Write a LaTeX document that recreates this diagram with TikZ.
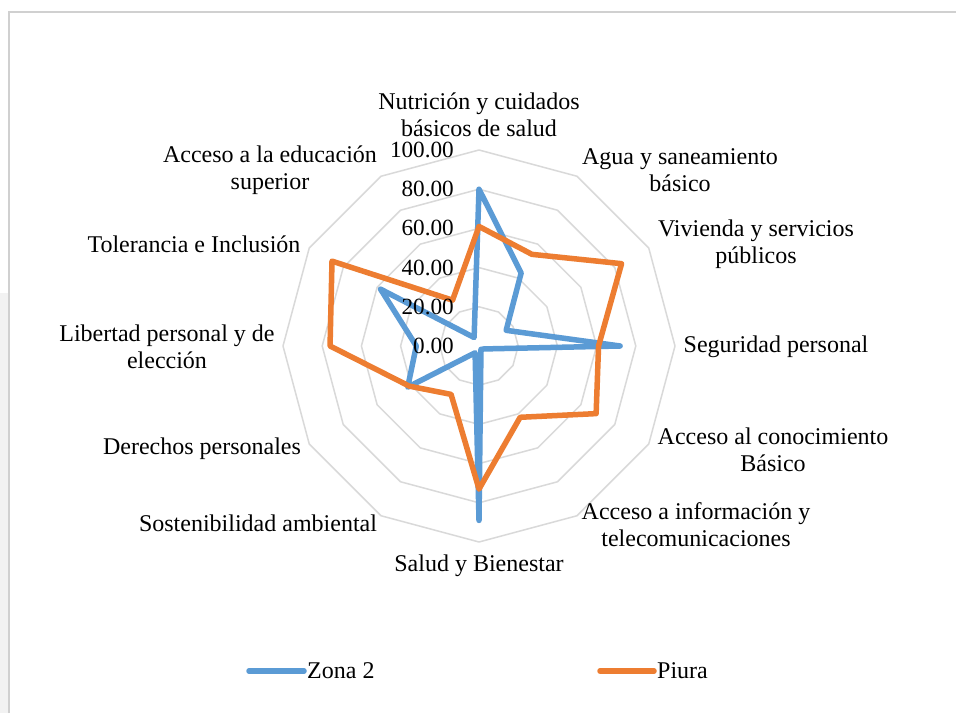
\documentclass[tikz,border=0pt]{standalone}
\usepackage{fontspec}
\setmainfont{Liberation Serif}
\definecolor{zblue}{HTML}{5B9BD5}
\definecolor{porange}{HTML}{ED7D31}
\definecolor{gridgray}{HTML}{D9D9D9}
\definecolor{framegray}{HTML}{D0D0D0}
\begin{document}
\begin{tikzpicture}[x=1pt,y=1pt,
  gridline/.style={draw=gridgray,line width=1.5pt,line join=round},
  zonaline/.style={draw=zblue,line width=5.5pt,line join=round,line cap=round},
  piuraline/.style={draw=porange,line width=5.5pt,line join=round,line cap=round},
  axlabel/.style={align=center,font=\fontsize{24}{27}\selectfont,inner sep=0pt},
  ticklabel/.style={anchor=east,font=\fontsize{23.2}{27}\selectfont,inner sep=0pt},
  legtext/.style={anchor=west,font=\fontsize{24}{27}\selectfont,inner sep=0pt}]
\useasboundingbox (0,0) rectangle (956,713);
\fill[white] (0,0) rectangle (956,713);
\fill[gray!10] (0,0) rectangle (8,420);
\draw[framegray,line width=1.2pt] (9,0) -- (9,701) -- (956,701);
% grid rings
\begin{scope}[shift={(479,367)}]
  \foreach \r in {20,40,60,80,100}{
    \draw[gridline] (90:{\r*1.96}) \foreach \k in {1,...,11}{ -- ({90-30*\k}:{\r*1.96})} -- cycle;
  }
  % Zona 2
  \draw[zonaline] (90:{80*1.96})
    \foreach \v [count=\k from 1] in {43,16,72,3,2,89,4,42,32,58,5}{ -- ({90-30*\k}:{\v*1.96})} -- cycle;
  % Piura
  \draw[piuraline] (90:{61*1.96})
    \foreach \v [count=\k from 1] in {54,84,61,69,42,73,28.5,41,76,86.6,27}{ -- ({90-30*\k}:{\v*1.96})} -- cycle;
\end{scope}
% tick labels
\node[ticklabel] (t100) at (454,{713-150}) {100.00};
\node[ticklabel] (t80) at (454,{713-189}) {80.00};
\node[ticklabel] (t60) at (454,{713-228}) {60.00};
\node[ticklabel] (t40) at (454,{713-268}) {40.00};
\node[ticklabel] (t20) at (454,{713-307}) {20.00};
\node[ticklabel] (t0) at (454,{713-346}) {0.00};
% axis labels
\node[axlabel] (l0) at (479,{713-114.5}) {Nutrición y cuidados\\básicos de salud};
\node[axlabel] (l1) at (680,{713-170.5}) {Agua y saneamiento\\básico};
\node[axlabel] (l2) at (756,{713-244.5}) {Vivienda y servicios\\públicos};
\node[axlabel] (l3) at (776,{713-347}) {Seguridad personal};
\node[axlabel] (l4) at (773,{713-450}) {Acceso al conocimiento\\Básico};
\node[axlabel] (l5) at (696,{713-524.5}) {Acceso a información y\\telecomunicaciones};
\node[axlabel] (l6) at (479,{713-566}) {Salud y Bienestar};
\node[axlabel] (l7) at (258,{713-523}) {Sostenibilidad ambiental};
\node[axlabel] (l8) at (202,{713-449}) {Derechos personales};
\node[axlabel] (l9) at (167,{713-347}) {Libertad personal y de\\elección};
\node[axlabel] (l10) at (194,{713-244}) {Tolerancia e Inclusión};
\node[axlabel] (l11) at (270,{713-170}) {Acceso a la educación\\superior};
% legend
\coordinate (za) at (249,{713-671});
\coordinate (zb) at (304,{713-671});
\draw[zonaline] (za) -- (zb);
\node[legtext] (zt) at (307,{713-671}) {Zona 2};
\coordinate (pa) at (600,{713-671});
\coordinate (pb) at (654,{713-671});
\draw[piuraline] (pa) -- (pb);
\node[legtext] (pt) at (657,{713-671}) {Piura};
\end{tikzpicture}
\end{document}
